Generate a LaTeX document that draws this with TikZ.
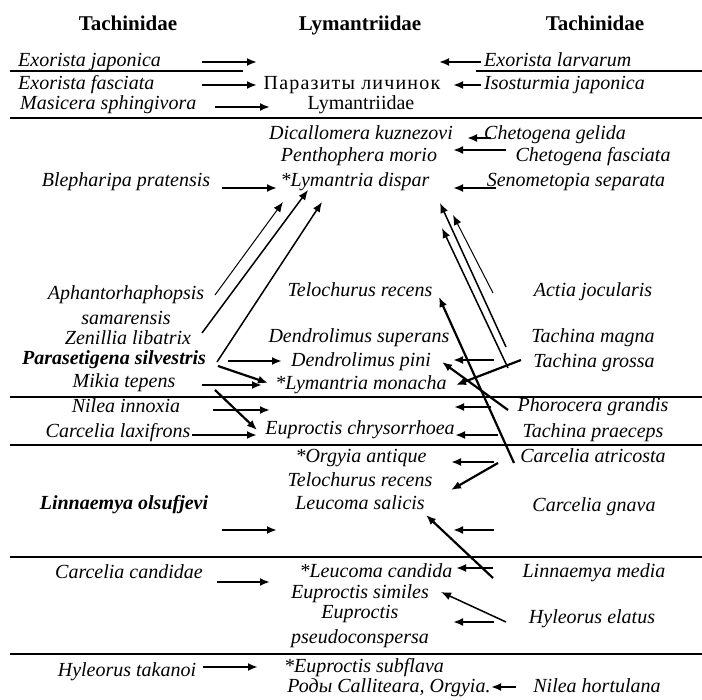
\documentclass[tikz,border=0pt]{standalone}
\usepackage{fontspec}
\setmainfont{Liberation Serif}
\usetikzlibrary{arrows.meta}

\tikzset{
  lbl/.style={font=\fontsize{20}{25}\selectfont\itshape, inner sep=1pt, text height=14pt, text depth=4pt},
  lbltwo/.style={font=\fontsize{20}{25}\selectfont\itshape, inner sep=1pt, align=center},
  lblbold/.style={lbl, font=\fontsize{20}{25}\selectfont\bfseries\itshape},
  hostfam/.style={font=\fontsize{20}{25}\selectfont, inner sep=1pt, text height=14pt, text depth=4pt},
  head/.style={font=\fontsize{21}{25}\selectfont\bfseries, inner sep=1pt, text height=14pt, text depth=4pt},
  arr/.style={line width=2.2pt, -{Latex[length=10pt,width=8pt]}},
  arrmid/.style={line width=1.5pt, -{Latex[length=10pt,width=8pt]}},
  arrthin/.style={line width=1pt, -{Latex[length=10pt,width=8pt]}},
  rule/.style={line width=1.2pt}
}

\begin{document}
\begin{tikzpicture}[x=1pt, y=-1pt]

    \fill [white] (0,0) rectangle (702,700);
    \useasboundingbox (0,0) rectangle (702,700);

    % column heads
    \node [head] (tachL) at (128,26) {Tachinidae};
    \node [head] (lymH)  at (360,26) {Lymantriidae};
    \node [head] (tachR) at (595,26) {Tachinidae};

    % separating rules
    \draw [rule] (10,71) -- (243,71);
    \draw [rule] (476,71) -- (702,71);
    \draw [rule] (10,118) -- (702,118);
    \draw [rule] (10,397) -- (702,397);
    \draw [rule] (10,445) -- (702,445);
    \draw [rule] (10,557) -- (702,557);
    \draw [rule] (10,654) -- (702,654);

    % left column
    \node [lbl, anchor=west] (exjap) at (17,62)  {Exorista japonica};
    \node [lbl, anchor=west] (exfas) at (17,85)  {Exorista fasciata};
    \node [lbl, anchor=west] (masic) at (19,105) {Masicera sphingivora};
    \node [lbl]     (bleph)  at (126,182) {Blepharipa pratensis};
    \node [lbltwo]  (aphan)  at (126,305) {Aphantorhaphopsis\\samarensis};
    \node [lbl]     (zenil)  at (128,340) {Zenillia libatrix};
    \node [lblbold] (paras)  at (114,360) {Parasetigena silvestris};
    \node [lbl]     (mikia)  at (124,383) {Mikia tepens};
    \node [lbl]     (nilin)  at (126,408) {Nilea innoxia};
    \node [lbl]     (carlax) at (118,433) {Carcelia laxifrons};
    \node [lblbold] (linol)  at (124,505) {Linnaemya olsufjevi};
    \node [lbl]     (carcan) at (129,573) {Carcelia candidae};
    \node [lbl]     (hytak)  at (127,671) {Hyleorus takanoi};

    % middle column
    \node [hostfam] (paraz)  at (352,85)  {\addfontfeature{LetterSpace=6}Паразиты личинок};
    \node [hostfam] (lymfam) at (361,105) {Lymantriidae};
    \node [lbl]     (dical)  at (361,135) {Dicallomera kuznezovi};
    \node [lbl]     (penth)  at (359,157) {Penthophera morio};
    \node [lbl]     (ldisp)  at (355,182) {*Lymantria dispar};
    \node [lbl]     (telo1)  at (360,292) {Telochurus recens};
    \node [lbl]     (dsup)   at (359,338) {Dendrolimus superans};
    \node [lbl]     (dpini)  at (361,362) {Dendrolimus pini};
    \node [lbl]     (lmon)   at (361,385) {*Lymantria monacha};
    \node [lbl]     (chrys)  at (360,430) {Euproctis chrysorrhoea};
    \node [lbl]     (orgy)   at (361,458) {*Orgyia antique};
    \node [lbl]     (telo2)  at (360,482) {Telochurus recens};
    \node [lbl]     (lsal)   at (360,505) {Leucoma salicis};
    \node [lbl]     (lcand)  at (376,572) {*Leucoma candida};
    \node [lbl]     (esim)   at (360,593) {Euproctis similes};
    \node [lbltwo]  (epseu)  at (360,627) {Euproctis\\pseudoconspersa};
    \node [lbl]     (esub)   at (364,667) {*Euproctis subflava};
    \node [lbl]     (rody)   at (389,687) {Роды Calliteara, Orgyia.};

    % right column
    \node [lbl, anchor=west] (exlar) at (483,62) {Exorista larvarum};
    \node [lbl, anchor=west] (isost) at (483,85) {Isosturmia japonica};
    \node [lbl]     (chgel)  at (555,135) {Chetogena gelida};
    \node [lbl]     (chfas)  at (593,157) {Chetogena fasciata};
    \node [lbl]     (senom)  at (576,182) {Senometopia separata};
    \node [lbl]     (actia)  at (593,292) {Actia jocularis};
    \node [lbl]     (tmag)   at (593,338) {Tachina magna};
    \node [lbl]     (tgros)  at (594,363) {Tachina grossa};
    \node [lbl]     (phoro)  at (593,407) {Phorocera grandis};
    \node [lbl]     (tprae)  at (593,433) {Tachina praeceps};
    \node [lbl]     (carat)  at (593,458) {Carcelia atricosta};
    \node [lbl]     (cgnav)  at (594,507) {Carcelia gnava};
    \node [lbl]     (linmed) at (594,572) {Linnaemya media};
    \node [lbl]     (hyela)  at (592,618) {Hyleorus elatus};
    \node [lbl]     (nilhor) at (597,687) {Nilea hortulana};

    % arrow ends, left side
    \coordinate (exjap-a)  at (202,62);  \coordinate (exjap-b)  at (257,62);
    \coordinate (exfas-a)  at (202,85);  \coordinate (exfas-b)  at (257,85);
    \coordinate (masic-a)  at (215,107); \coordinate (masic-b)  at (270,107);
    \coordinate (bleph-a)  at (222,188); \coordinate (bleph-b)  at (277,188);
    \coordinate (aphan-a)  at (215,295); \coordinate (aphan-b)  at (283,202);
    \coordinate (zenil-a)  at (202,333); \coordinate (zenil-b)  at (308,190);
    \coordinate (paras-a)  at (217,362); \coordinate (paras-b)  at (322,202);
    \coordinate (paras-c)  at (228,361); \coordinate (paras-d)  at (282,361);
    \coordinate (paras-e)  at (218,366); \coordinate (paras-f)  at (268,383);
    \coordinate (mikia-a)  at (202,385); \coordinate (mikia-b)  at (262,385);
    \coordinate (mikia-c)  at (215,390); \coordinate (mikia-d)  at (257,430);
    \coordinate (nilin-a)  at (213,410); \coordinate (nilin-b)  at (270,410);
    \coordinate (carlax-a) at (192,435); \coordinate (carlax-b) at (257,435);
    \coordinate (linol-a)  at (222,530); \coordinate (linol-b)  at (277,530);
    \coordinate (carcan-a) at (217,582); \coordinate (carcan-b) at (270,582);
    \coordinate (hytak-a)  at (203,667); \coordinate (hytak-b)  at (258,667);

    % arrow ends, right side
    \coordinate (exlar-a)  at (481,62);  \coordinate (exlar-b)  at (439,62);
    \coordinate (isost-a)  at (481,85);  \coordinate (isost-b)  at (453,85);
    \coordinate (chgel-a)  at (491,138); \coordinate (chgel-b)  at (467,138);
    \coordinate (chfas-a)  at (506,150); \coordinate (chfas-b)  at (453,150);
    \coordinate (senom-a)  at (496,188); \coordinate (senom-b)  at (453,188);
    \coordinate (actia-a)  at (493,293); \coordinate (actia-b)  at (453,215);
    \coordinate (tmag-a)   at (506,347); \coordinate (tmag-b)   at (440,203);
    \coordinate (tgros-a)  at (508,368); \coordinate (tgros-b)  at (442,228);
    \coordinate (tgros-c)  at (494,360); \coordinate (tgros-d)  at (453,360);
    \coordinate (tgros-e)  at (521,360); \coordinate (tgros-f)  at (456,385);
    \coordinate (phoro-a)  at (508,410); \coordinate (phoro-b)  at (442,362);
    \coordinate (phoro-c)  at (491,407); \coordinate (phoro-d)  at (454,407);
    \coordinate (tprae-a)  at (498,435); \coordinate (tprae-b)  at (455,435);
    \coordinate (carat-a)  at (514,463); \coordinate (carat-b)  at (439,297);
    \coordinate (carat-c)  at (494,462); \coordinate (carat-d)  at (451,462);
    \coordinate (carat-e)  at (498,463); \coordinate (carat-f)  at (451,490);
    \coordinate (cgnav-a)  at (494,530); \coordinate (cgnav-b)  at (453,530);
    \coordinate (linmed-a) at (493,578); \coordinate (linmed-b) at (426,515);
    \coordinate (linmed-c) at (493,568); \coordinate (linmed-d) at (456,568);
    \coordinate (hyela-a)  at (506,622); \coordinate (hyela-b)  at (441,592);
    \coordinate (hyela-c)  at (494,622); \coordinate (hyela-d)  at (453,622);
    \coordinate (nilhor-a) at (516,687); \coordinate (nilhor-b) at (491,687);

    % left arrows
    \draw [arr] (exjap-a) -- (exjap-b);
    \draw [arr] (exfas-a) -- (exfas-b);
    \draw [arr] (masic-a) -- (masic-b);
    \draw [arr] (bleph-a) -- (bleph-b);
    \draw [arrthin] (aphan-a) -- (aphan-b);
    \draw [arrmid] (zenil-a) -- (zenil-b);
    \draw [arrmid] (paras-a) -- (paras-b);
    \draw [arr] (paras-c) -- (paras-d);
    \draw [arr] (paras-e) -- (paras-f);
    \draw [arr] (mikia-a) -- (mikia-b);
    \draw [arr] (mikia-c) -- (mikia-d);
    \draw [arr] (nilin-a) -- (nilin-b);
    \draw [arr] (carlax-a) -- (carlax-b);
    \draw [arr] (linol-a) -- (linol-b);
    \draw [arr] (carcan-a) -- (carcan-b);
    \draw [arr] (hytak-a) -- (hytak-b);

    % right arrows
    \draw [arr] (exlar-a) -- (exlar-b);
    \draw [arr] (isost-a) -- (isost-b);
    \draw [arr] (chgel-a) -- (chgel-b);
    \draw [arr] (chfas-a) -- (chfas-b);
    \draw [arr] (senom-a) -- (senom-b);
    \draw [arrthin] (actia-a) -- (actia-b);
    \draw [arrmid] (tmag-a) -- (tmag-b);
    \draw [arrmid] (tgros-a) -- (tgros-b);
    \draw [arr] (tgros-c) -- (tgros-d);
    \draw [arr] (tgros-e) -- (tgros-f);
    \draw [arr] (phoro-a) -- (phoro-b);
    \draw [arr] (phoro-c) -- (phoro-d);
    \draw [arr] (tprae-a) -- (tprae-b);
    \draw [arr] (carat-a) -- (carat-b);
    \draw [arr] (carat-c) -- (carat-d);
    \draw [arr] (carat-e) -- (carat-f);
    \draw [arr] (cgnav-a) -- (cgnav-b);
    \draw [arr] (linmed-a) -- (linmed-b);
    \draw [arr] (linmed-c) -- (linmed-d);
    \draw [arrmid] (hyela-a) -- (hyela-b);
    \draw [arr] (hyela-c) -- (hyela-d);
    \draw [arr] (nilhor-a) -- (nilhor-b);

\end{tikzpicture}
\end{document}
